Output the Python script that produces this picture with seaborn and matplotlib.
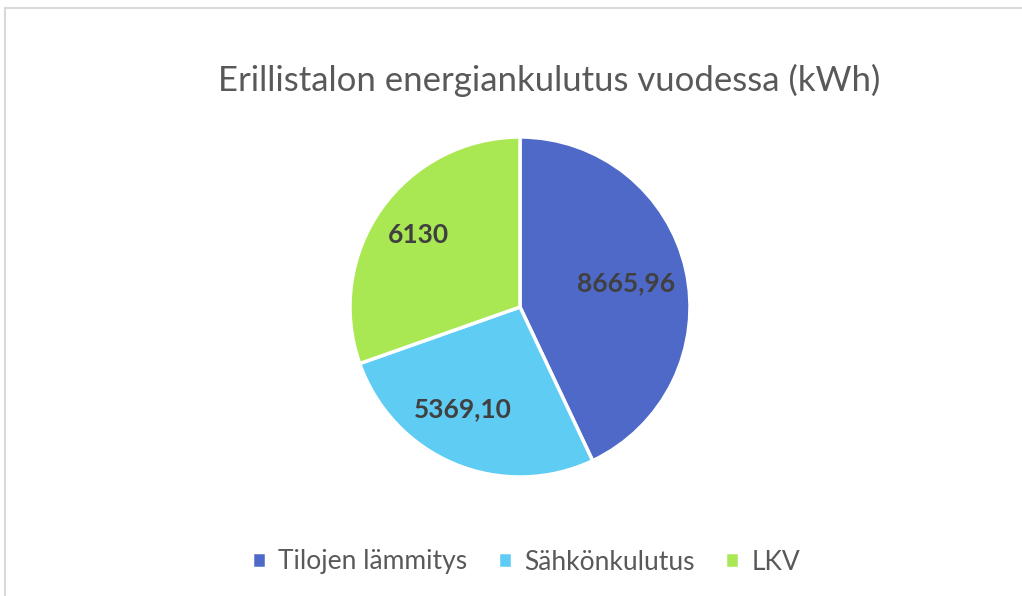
import matplotlib
matplotlib.use("Agg")
import numpy as np
import matplotlib.pyplot as plt
from matplotlib.lines import Line2D
import seaborn as sns

# data
categories = ["Tilojen lämmitys", "Sähkönkulutus", "LKV"]
values = [8665.96, 5369.10, 6130]
value_labels = ["8665,96", "5369,10", "6130"]
colors = ["#4F69C9", "#5FCCF3", "#A9E852"]

sns.set_theme(style="white")
plt.rcParams['font.family'] = ['Lato', 'DejaVu Sans']

W, H = 1022, 596
fig = plt.figure(figsize=(W / 100, H / 100), dpi=100)

# pie centred at (520, 307) px, radius 170 px
cx, cy, r = 520, 307, 170
ax = fig.add_axes([(cx - r) / W, (H - cy - r) / H, 2 * r / W, 2 * r / H])

palette = sns.color_palette(colors)
wedges, _ = ax.pie(values, colors=palette, startangle=90, counterclock=False,
                   wedgeprops=dict(edgecolor="white", linewidth=2.5))
ax.set_xlim(-1, 1)
ax.set_ylim(-1, 1)
ax.set_aspect("equal")

# label placement inside slices (distance, angle tweak in degrees)
dists = [0.64, 0.69, 0.73]
shifts = [0, -6.5, 0]
for w, lab, d, s in zip(wedges, value_labels, dists, shifts):
    mid = np.deg2rad((w.theta1 + w.theta2) / 2 + s)
    ax.text(d * np.cos(mid), d * np.sin(mid), lab, ha="center", va="center",
            fontsize=19, fontweight="bold", color="#404040")

fig.text(549 / W, 1 - 80 / H, "Erillistalon energiankulutus vuodessa (kWh)",
         ha="center", va="center", fontsize=25, color="#595959")

fig.legend(wedges, categories, loc="center", bbox_to_anchor=(526 / W, 1 - 562 / H),
           ncol=3, frameon=False, fontsize=19, labelcolor="#595959",
           handlelength=0.55, handleheight=0.55, handletextpad=0.45, columnspacing=1.15)

# chart frame (top and left edges visible)
fig.add_artist(Line2D([5 / W, 1], [1 - 8 / H, 1 - 8 / H], color="#D9D9D9", lw=1.5))
fig.add_artist(Line2D([5 / W, 5 / W], [0, 1 - 8 / H], color="#D9D9D9", lw=1.5))

fig.savefig("out.png", dpi=100, facecolor="white")
